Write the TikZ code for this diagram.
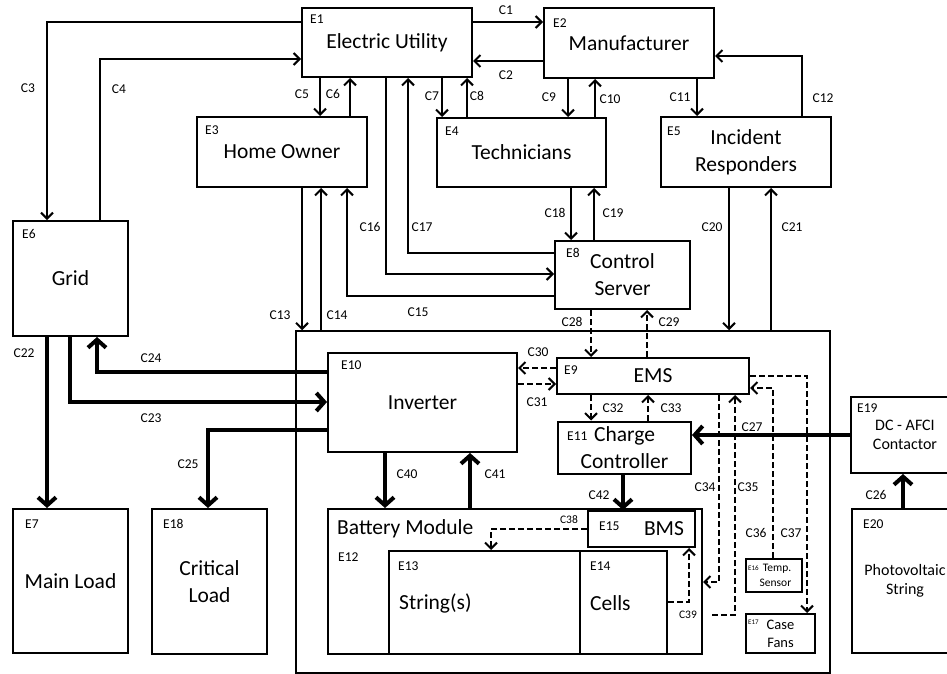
\documentclass[tikz,border=0pt]{standalone}
\usepackage{fontspec}
\setmainfont{Carlito}
\usetikzlibrary{arrows.meta}

\begin{document}
\begin{tikzpicture}[
  x=1pt, y=-1pt,
  ent/.style={draw,line width=2pt,inner sep=0pt,align=center,font=\fontsize{21.5}{27}\selectfont},
  box/.style 2 args={minimum width=#1pt,minimum height=#2pt},
  big/.style={inner sep=0pt,font=\fontsize{21.5}{27}\selectfont},
  tag/.style={anchor=west,inner sep=0pt,font=\fontsize{13.5}{15}\selectfont},
  clab/.style={inner sep=0pt,font=\fontsize{13.5}{15}\selectfont},
  conn/.style={line width=2pt,-{Straight Barb[length=6pt,width=12pt]}},
  power/.style={line width=4pt,-{Straight Barb[length=8pt,width=18pt]}},
  ctrl/.style={conn,dash pattern=on 6pt off 3pt}
]
  \useasboundingbox[fill=white] (0,0) rectangle (947,674);

  % system boundary
  \node[draw,line width=1.5pt,box={534}{342}] (sys) at (563,502) {};

  % entities
  \node[ent,box={170}{69}] (eu)   at (387,42.5)   {Electric Utility};
  \node[ent,box={170}{70}] (mf)   at (629,43)     {Manufacturer};
  \node[ent,box={170}{70}] (ho)   at (282,152)    {Home Owner};
  \node[ent,box={169}{69}] (tech) at (521.5,152.5) {Technicians};
  \node[ent,box={170}{70}] (ir)   at (746,152)    {Incident\\Responders};
  \node[ent,box={115}{115}] (grid) at (70.5,278.5) {Grid};
  \node[ent,box={135}{68}] (cs)   at (622.5,275)  {Control\\Server};
  \node[ent,box={192}{36}] (ems)  at (653,376)    {EMS};
  \node[ent,box={189}{99}] (inv)  at (422.5,402.5) {Inverter};
  \node[ent,box={133}{52}] (cc)   at (624.5,447.5) {Charge\\Controller};
  \node[ent,box={115}{144}] (ml)  at (70.5,581)   {Main Load};
  \node[ent,box={115}{145}] (cl)  at (209.5,581.5) {Critical\\Load};
  \node[ent,box={374}{145}] (bm)  at (515,581.5)  {};
  \node[ent,box={191}{103}] (str) at (484.5,602.5) {};
  \node[ent,box={87}{103}] (cells) at (623.5,602.5) {};
  \node[ent,box={107}{36}] (bms)  at (641.5,529)  {};
  \node[ent,box={56}{33},font=\fontsize{11.5}{15}\selectfont] (ts) at (774,575.5) {\hspace*{6pt}Temp.\\\hspace*{3pt}Sensor};
  \node[ent,box={69}{39},font=\fontsize{14.5}{18}\selectfont] (cf) at (780.5,633.5) {Case\\Fans};
  \node[ent,box={108}{76},font=\fontsize{16}{19}\selectfont] (afci) at (905,435) {DC - AFCI\\Contactor};
  \node[ent,box={106}{144},font=\fontsize{16}{19}\selectfont] (pv) at (905,581) {Photovoltaic\\String};

  \node[big,anchor=west] (bmt)   at (337,529) {Battery Module};
  \node[big,anchor=west] (strt)  at (399,603) {String(s)};
  \node[big,anchor=west] (cellt) at (590,603) {Cells};
  \node[big] (bmst) at (664,529) {BMS};

  % entity tags
  \foreach \n/\x/\y in {1/310/19, 2/553/23, 3/205/130, 4/445/131, 5/667/131,
      6/22/234, 7/25/524, 8/566/253, 9/564/370, 10/341/365, 11/567/436,
      12/338/557, 13/398/566, 14/590/566, 15/599/526, 18/163/524,
      19/857/408, 20/863/524}
    \node[tag] (t\n) at (\x,\y) {E\n};
  \node[tag,font=\fontsize{7}{8}\selectfont] (t16) at (748,568) {E16};
  \node[tag,font=\fontsize{7}{8}\selectfont] (t17) at (748,622) {E17};

  % connector labels
  \foreach \n/\x/\y in {1/506/10, 2/506/75, 3/28/88, 4/119/89, 5/302/94,
      6/333/94, 7/432/96, 8/477/96, 9/549/97, 10/610/99, 11/680/97,
      12/823/98, 13/280/315, 14/337/315, 15/418/312, 16/370/227,
      17/422/227, 18/555/213, 19/613/213, 20/712/227, 21/792/227,
      22/24/353, 23/151/418, 24/151/358, 25/188/464, 26/876/495,
      27/752/427, 28/572/322, 29/669/322, 30/538/352, 31/537/402,
      32/613/408, 33/671/408, 34/705/487, 35/748/487, 36/756/533,
      37/791/533, 40/407/474, 41/495/474, 42/599/495}
    \node[clab] (c\n) at (\x,\y) {C\n};
  \node[clab,font=\fontsize{11.5}{13}\selectfont] (c38) at (569,520) {C38};
  \node[clab,font=\fontsize{11.5}{13}\selectfont] (c39) at (688,615) {C39};

  % information flows
  \draw[conn] (eu.east |- 0,22) -- (mf.west |- 0,22);
  \draw[conn] (mf.west |- 0,61) -- (eu.east |- 0,61);
  \draw[conn] (eu.west |- 0,22) -| (47,0 |- grid.north);
  \draw[conn] (100,0 |- grid.north) |- (eu.west |- 0,59);
  \draw[conn] (320,0 |- eu.south) -- (320,0 |- ho.north);
  \draw[conn] (350,0 |- ho.north) -- (350,0 |- eu.south);
  \draw[conn] (442,0 |- eu.south) -- (442,0 |- tech.north);
  \draw[conn] (467,0 |- tech.north) -- (467,0 |- eu.south);
  \draw[conn] (568,0 |- mf.south) -- (568,0 |- tech.north);
  \draw[conn] (595,0 |- tech.north) -- (595,0 |- mf.south);
  \draw[conn] (697,0 |- mf.south) -- (697,0 |- ir.north);
  \draw[conn] (802,0 |- ir.north) |- (mf.east |- 0,56);
  \draw[conn] (302,0 |- ho.south) -- (302,0 |- sys.north);
  \draw[conn] (321,0 |- sys.north) -- (321,0 |- ho.south);
  \draw[conn] (cs.west |- 0,296) -| (347,0 |- ho.south);
  \draw[conn] (386,0 |- eu.south) |- (cs.west |- 0,274);
  \draw[conn] (cs.west |- 0,253) -| (408,0 |- eu.south);
  \draw[conn] (571,0 |- tech.south) -- (571,0 |- cs.north);
  \draw[conn] (594,0 |- cs.north) -- (594,0 |- tech.south);
  \draw[conn] (729,0 |- ir.south) -- (729,0 |- sys.north);
  \draw[conn] (771,0 |- sys.north) -- (771,0 |- ir.south);

  % power flows
  \draw[power] (47,0 |- grid.south) -- (47,0 |- ml.north);
  \draw[power] (70,0 |- grid.south) |- (inv.west |- 0,402);
  \draw[power] (inv.west |- 0,372) -| (97,0 |- grid.south);
  \draw[power] (inv.west |- 0,430) -| (208,0 |- cl.north);
  \draw[power] (903,0 |- pv.north) -- (903,0 |- afci.south);
  \draw[power] (afci.west |- 0,435) -- (cc.east |- 0,435);
  \draw[power] (385,0 |- inv.south) -- (385,0 |- bm.north);
  \draw[power] (470,0 |- bm.north) -- (470,0 |- inv.south);
  \draw[power] (623,0 |- cc.south) -- (623,0 |- bms.north);

  % control signals
  \coordinate (c35s) at (712,615);
  \draw[ctrl] (591,0 |- cs.south) -- (591,0 |- ems.north);
  \draw[ctrl] (647,0 |- ems.north) -- (647,0 |- cs.south);
  \draw[ctrl] (ems.west |- 0,368) -- (inv.east |- 0,368);
  \draw[ctrl] (inv.east |- 0,384) -- (ems.west |- 0,384);
  \draw[ctrl] (591,0 |- ems.south) -- (591,0 |- cc.north);
  \draw[ctrl] (648,0 |- cc.north) -- (648,0 |- ems.south);
  \draw[ctrl] (719,0 |- ems.south) |- (bm.east |- 0,582);
  \draw[ctrl] (c35s) -| (735,0 |- ems.south);
  \draw[ctrl] (773,0 |- ts.north) |- (ems.east |- 0,388);
  \draw[ctrl] (ems.east |- 0,376) -| (807,0 |- cf.north);
  \draw[ctrl] (bms.west |- 0,529) -| (491,0 |- str.north);
  \draw[ctrl] (cells.east |- 0,602) -| (689,0 |- bms.south);
\end{tikzpicture}
\end{document}
